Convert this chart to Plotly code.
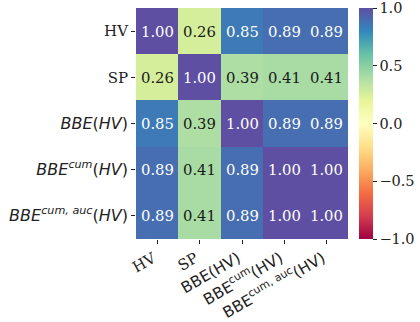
import plotly.graph_objects as go

def sans(s, size):
    return f"<span style=\"font-family:'DejaVu Sans';font-size:{size}px\">{s}</span>"

categories = ["HV", "SP", "BBE(HV)", "BBEcum(HV)", "BBEcumauc(HV)"]
y_ticktext = [
    "HV",
    "SP",
    sans("<i>BBE</i>(<i>HV</i>)", 16),
    sans("<i>BBE</i><sup><i>cum</i></sup>(<i>HV</i>)", 16),
    sans("<i>BBE</i><sup><i>cum, auc</i></sup>(<i>HV</i>)", 16),
]
x_ticktext = [
    "HV",
    "SP",
    sans("BBE(HV)", 15.5),
    sans("BBE<sup>cum</sup>(HV)", 15.5),
    sans("BBE<sup>cum, auc</sup>(HV)", 15.5),
]

row_hv = [1.00, 0.26, 0.85, 0.89, 0.89]
row_sp = [0.26, 1.00, 0.39, 0.41, 0.41]
row_bbe = [0.85, 0.39, 1.00, 0.89, 0.89]
row_bbe_cum = [0.89, 0.41, 0.89, 1.00, 1.00]
row_bbe_cum_auc = [0.89, 0.41, 0.89, 1.00, 1.00]
z = [row_hv, row_sp, row_bbe, row_bbe_cum, row_bbe_cum_auc]

colorbar_ticks = [1.0, 0.5, 0.0, -0.5, -1.0]
colorbar_ticktext = ["1.0", "0.5", "0.0", "\u22120.5", "\u22121.0"]

spectral = ['rgb(158,1,66)', 'rgb(213,62,79)', 'rgb(244,109,67)', 'rgb(253,174,97)',
            'rgb(254,224,139)', 'rgb(255,255,191)', 'rgb(230,245,152)', 'rgb(171,221,164)',
            'rgb(102,194,165)', 'rgb(50,136,189)', 'rgb(94,79,162)']
cscale = [[i / 10, c] for i, c in enumerate(spectral)]

W, H = 420, 322
L, R, T, B = 136, 72, 8, 83
pw = W - L - R

fig = go.Figure(go.Heatmap(
    z=z, x=categories, y=categories, zmin=-1, zmax=1, colorscale=cscale,
    xgap=0, ygap=0, hoverinfo="skip",
    colorbar=dict(
        x=(359 - L) / pw, xanchor="left", xpad=0, y=0.5, yanchor="middle",
        len=1, lenmode="fraction", ypad=0, thickness=14, outlinewidth=0,
        tickmode="array", tickvals=colorbar_ticks, ticktext=colorbar_ticktext,
        ticks="outside", ticklen=4, tickwidth=1, tickcolor="#222",
        ticklabeloverflow="allow",
        tickfont=dict(family="DejaVu Serif", size=14.5, color="#222"),
    ),
))

annotations = []
for i, row in enumerate(z):
    for j, v in enumerate(row):
        annotations.append(dict(
            x=categories[j], y=categories[i], text=f"{v:.2f}", showarrow=False,
            font=dict(family="DejaVu Serif", size=14.8,
                      color="white" if v > 0.6 else "#1a1a1a"),
        ))

fig.update_layout(
    width=W, height=H, margin=dict(l=L, r=R, t=T, b=B, autoexpand=False),
    paper_bgcolor="white", plot_bgcolor="white",
    annotations=annotations,
    font=dict(family="DejaVu Serif", size=15, color="#222"),
    xaxis=dict(showgrid=False, zeroline=False, ticks="outside", ticklen=4,
               tickwidth=1, tickcolor="#222", tickangle=-30,
               tickmode="array", tickvals=categories, ticktext=x_ticktext,
               ticklabelshift=-4,
               tickfont=dict(family="DejaVu Serif", size=15, color="#222")),
    yaxis=dict(showgrid=False, zeroline=False, ticks="outside", ticklen=4,
               tickwidth=1, tickcolor="#222", autorange="reversed",
               tickmode="array", tickvals=categories, ticktext=y_ticktext,
               tickfont=dict(family="DejaVu Serif", size=15, color="#222")),
)

fig.write_html("out.html", config={"displayModeBar": False},
               post_script="document.body.style.margin='0';")
